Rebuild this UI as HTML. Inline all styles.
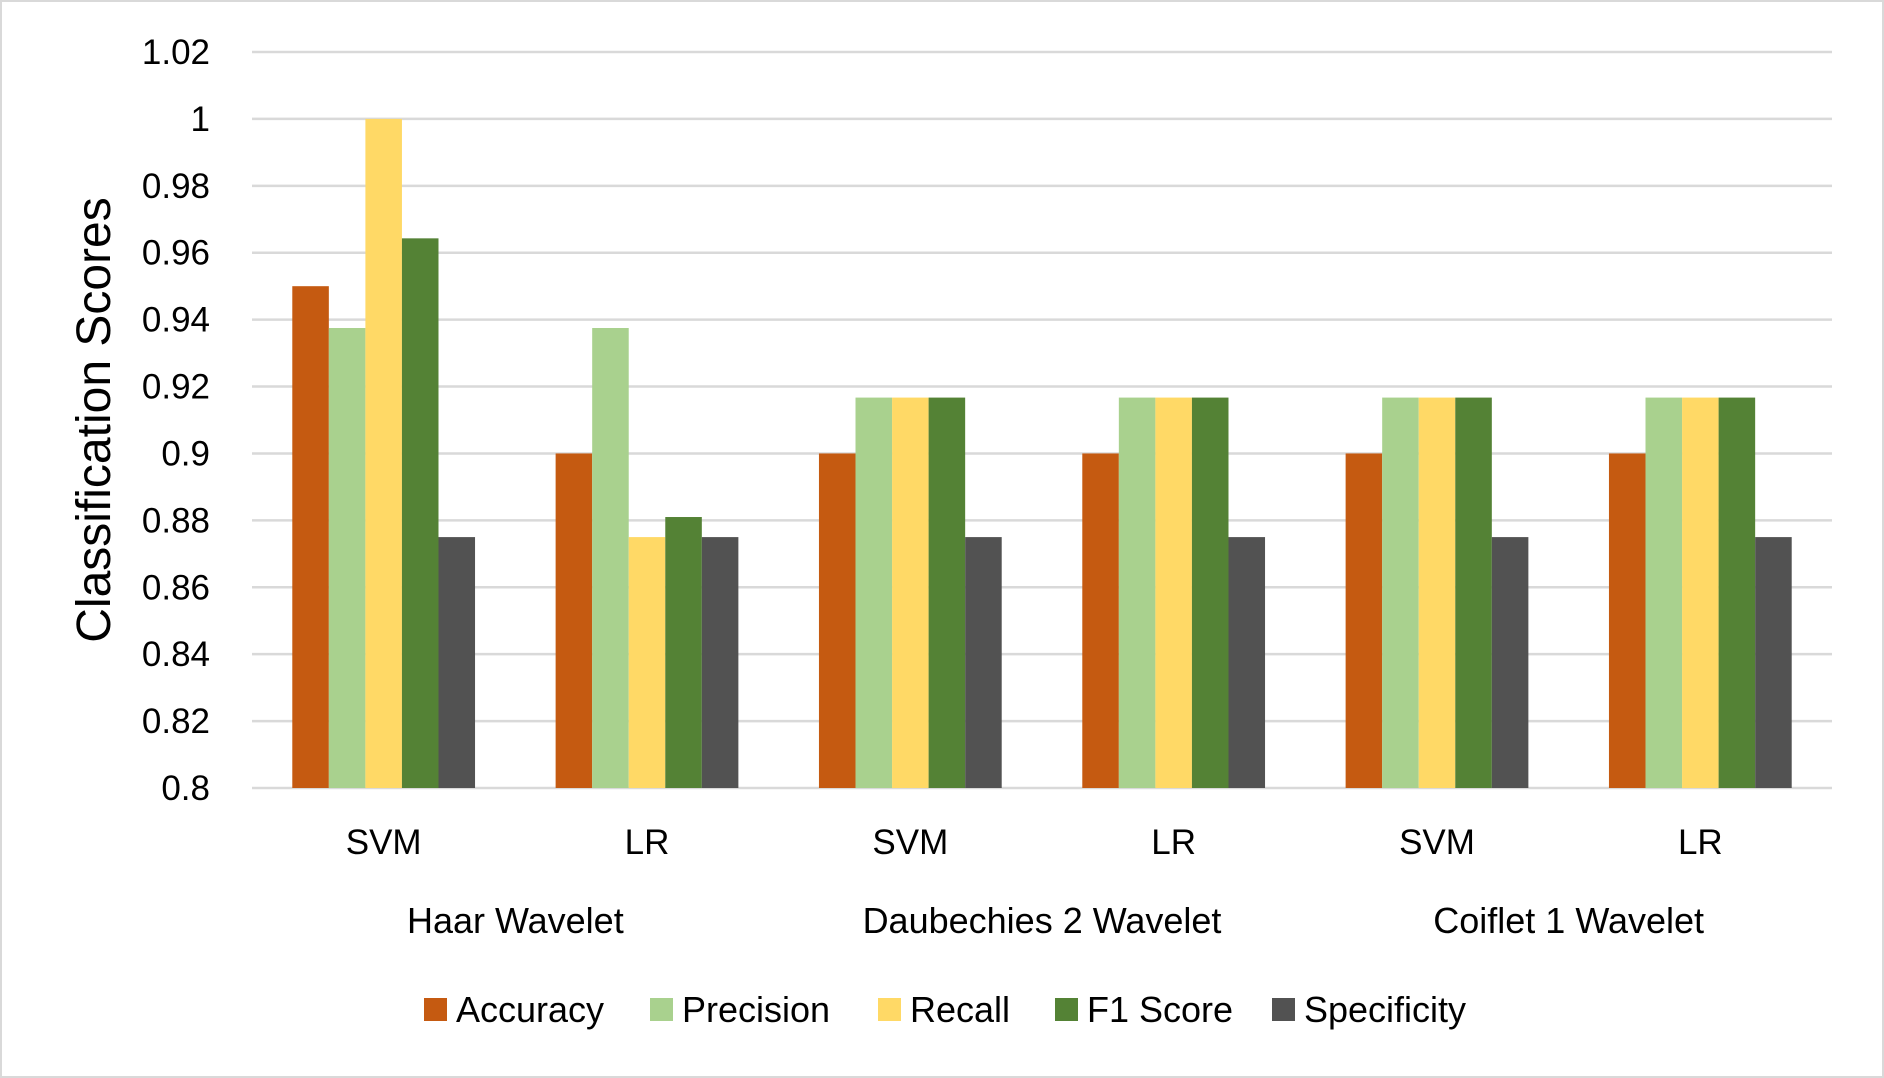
<!DOCTYPE html>
<html><head><meta charset="utf-8"><style>
html,body{margin:0;padding:0;background:#fff;}
svg{display:block;font-family:"Liberation Sans",sans-serif;}
</style></head><body>
<svg id="chart" width="1884" height="1078" viewBox="0 0 1884 1078" xmlns="http://www.w3.org/2000/svg">
<rect x="1" y="1" width="1882" height="1076" fill="#fff" stroke="#d9d9d9" stroke-width="2"/>
<g id="grid"></g>
<g id="bars"></g>
<g id="labels"></g>
<text transform="translate(110,420) rotate(-90)" text-anchor="middle" font-size="48" fill="#000">Classification Scores</text>
<g id="legend"></g>
</svg>
<script>
const categories = ["SVM","LR","SVM","LR","SVM","LR"];
const groups = ["Haar Wavelet","Daubechies 2 Wavelet","Coiflet 1 Wavelet"];
const seriesNames = ["Accuracy","Precision","Recall","F1 Score","Specificity"];
const seriesColors = ["#c55a11","#a9d18e","#ffd966","#548235","#525252"];
const accuracy = [0.95,0.90,0.90,0.90,0.90,0.90];
const precision = [0.9375,0.9375,0.9167,0.9167,0.9167,0.9167];
const recall = [1.0,0.875,0.9167,0.9167,0.9167,0.9167];
const f1 = [0.9643,0.881,0.9167,0.9167,0.9167,0.9167];
const specificity = [0.875,0.875,0.875,0.875,0.875,0.875];
const yTicks = [0.8,0.82,0.84,0.86,0.88,0.9,0.92,0.94,0.96,0.98,1,1.02];
const series = [accuracy,precision,recall,f1,specificity];

const NS="http://www.w3.org/2000/svg";
const X0=252, X1=1832, Y0=788, Y1=52, YMIN=0.8, YMAX=1.02;
function y(v){return Y0-(v-YMIN)/(YMAX-YMIN)*(Y0-Y1);}
const catW=(X1-X0)/categories.length;
function xc(i){return X0+catW*(i+0.5);}
const barW=catW*0.1388;
function mk(tag,attrs,parent){const e=document.createElementNS(NS,tag);for(const k in attrs)e.setAttribute(k,attrs[k]);parent.appendChild(e);return e;}
const grid=document.getElementById('grid'),bars=document.getElementById('bars'),labels=document.getElementById('labels'),legend=document.getElementById('legend');
yTicks.forEach(t=>{
  const l=mk('line',{x1:X0,x2:X1,y1:y(t),y2:y(t),stroke:'#d9d9d9','stroke-width':2.5},grid);
  
  
  const tx=mk('text',{x:210,y:y(t)+12,'text-anchor':'end','font-size':35,fill:'#000'},labels);
  
  
  tx.textContent=String(t);
});
categories.forEach((c,i)=>{
  series.forEach((s,j)=>{
    const x=xc(i)-2.5*barW+j*barW;
    const r=mk('rect',{x:x,y:y(s[i]),width:barW,height:Y0-y(s[i]),fill:seriesColors[j]},bars);
    
    
  });
  const t=mk('text',{x:xc(i),y:854,'text-anchor':'middle','font-size':35,fill:'#000'},labels);
  
  
  t.textContent=c;
});
groups.forEach((g,k)=>{
  const t=mk('text',{x:X0+catW*(2*k+1),y:933,'text-anchor':'middle','font-size':36,fill:'#000'},labels);
  
  
  t.textContent=g;
});
const legX=[424,650,878,1055,1272];
seriesNames.forEach((n,j)=>{
  const r=mk('rect',{x:legX[j],y:998,width:23,height:23,fill:seriesColors[j]},legend);
  
  
  const t=mk('text',{x:legX[j]+32,y:1022,'font-size':36,fill:'#000'},legend);
  
  
  t.textContent=n;
});
</script>
</body></html>
